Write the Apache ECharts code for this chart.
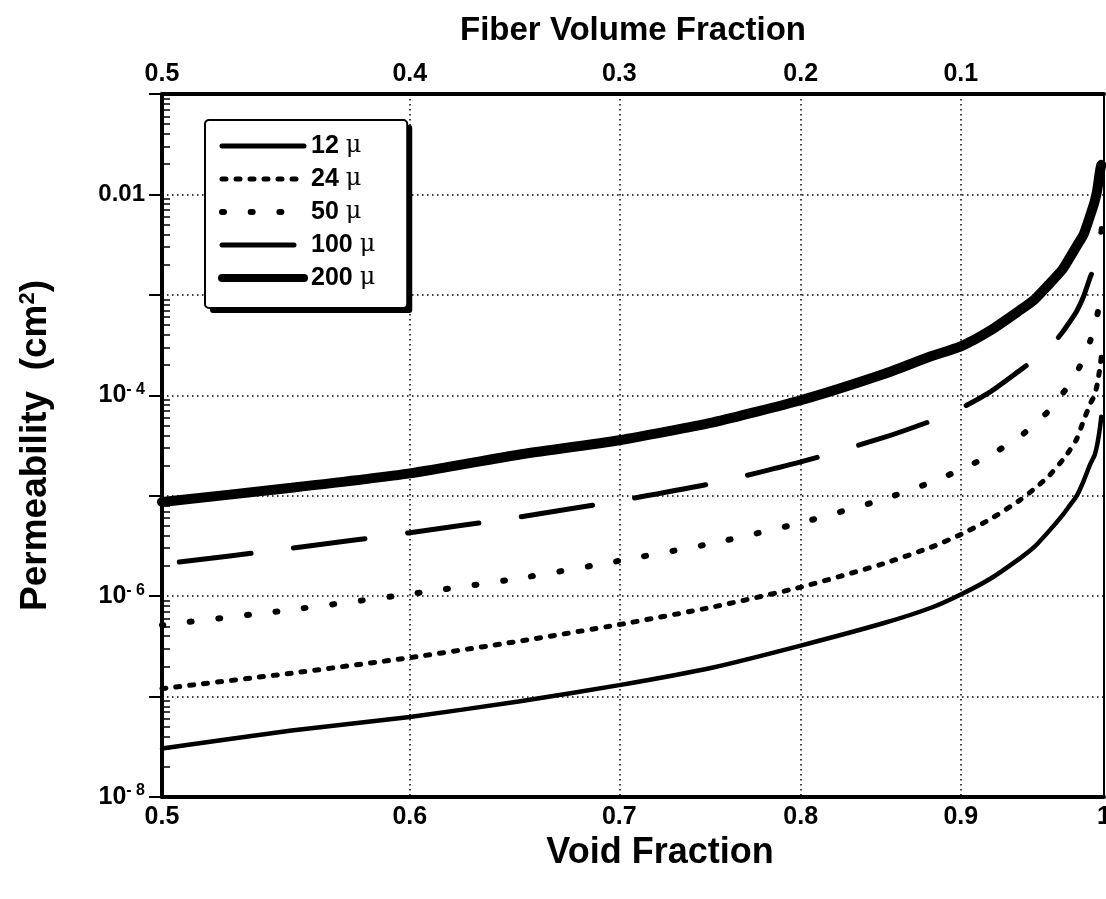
<!DOCTYPE html>
<html><head><meta charset="utf-8">
<script src="https://cdn.jsdelivr.net/npm/echarts@6/dist/echarts.min.js"></script>
<style>html,body{margin:0;padding:0;background:#fff}#c{width:1106px;height:899px}</style>
</head><body><div id="c"></div>
<script>
// Void fraction sample points (x)
const voidFraction = [0.5,0.55,0.6,0.65,0.7,0.75,0.8,0.85,0.88,0.9,0.92,0.94,0.95,0.96,0.97,0.975,0.98,0.985,0.99,0.993,0.995,0.997,0.998];
// Permeability (cm^2)
const perm12 = [3.04e-8,4.59e-8,6.27e-8,8.95e-8,1.30e-7,1.95e-7,3.22e-7,5.37e-7,7.62e-7,1.04e-6,1.50e-6,2.38e-6,3.09e-6,4.39e-6,6.41e-6,7.96e-6,9.89e-6,1.39e-5,2.07e-5,2.51e-5,3.21e-5,4.71e-5,6.10e-5];
const perm24 = [1.20e-7,1.71e-7,2.44e-7,3.55e-7,5.21e-7,7.80e-7,1.23e-6,2.10e-6,3.05e-6,4.11e-6,5.87e-6,9.04e-6,1.17e-5,1.56e-5,2.26e-5,2.82e-5,3.64e-5,5.55e-5,8.26e-5,9.98e-5,1.28e-4,1.87e-4,2.43e-4];
const perm50 = [5.15e-7,7.33e-7,1.05e-6,1.50e-6,2.25e-6,3.37e-6,5.37e-6,9.20e-6,1.35e-5,1.82e-5,2.55e-5,3.88e-5,5.12e-5,6.97e-5,1.04e-4,1.29e-4,1.67e-4,2.32e-4,3.52e-4,4.75e-4,6.22e-4,8.71e-4,1.04e-3];
const perm100 = [2.08e-6,3.00e-6,4.28e-6,6.11e-6,8.93e-6,1.33e-5,2.17e-5,3.78e-5,5.51e-5,7.43e-5,1.09e-4,1.77e-4,2.26e-4,2.88e-4,4.27e-4,5.37e-4,6.84e-4,9.57e-4,1.51e-3,1.91e-3,2.51e-3,3.55e-3,4.57e-3];
const perm200 = [8.67e-6,1.20e-5,1.67e-5,2.56e-5,3.57e-5,5.38e-5,8.93e-5,1.62e-4,2.43e-4,3.07e-4,4.44e-4,7.03e-4,8.95e-4,1.26e-3,1.80e-3,2.33e-3,3.05e-3,3.96e-3,6.24e-3,8.36e-3,1.10e-2,1.70e-2,1.97e-2];
const seriesNames = ['12 μ','24 μ','50 μ','100 μ','200 μ'];
const bottomTicks = [0.5,0.6,0.7,0.8,0.9,1];
const topTicks = [0.5,0.6,0.7,0.8,0.9];
const yLabelExps = [-8,-6,-4,-2];
const yMinorTicks = [];
for (let e = -8; e <= -2; e++) for (let m = 2; m <= 9; m++) yMinorTicks.push(+(m + 'e' + e));

const FONT = '"Liberation Sans", Arial, Helvetica, sans-serif';
const allData = [perm12, perm24, perm50, perm100, perm200];
const styles = [
  {width: 4.5, type: 'solid', cap: 'round'},
  {width: 5, type: [4, 10], cap: 'round', dashOffset: 0},
  {width: 6, type: [2, 26.7], cap: 'round', dashOffset: 0.7},
  {width: 5, type: [72, 43], cap: 'round', dashOffset: 97.5},
  {width: 10, type: 'solid', cap: 'round'}
];
const legendWidths = [5, 5, 6, 5, 8];

const chart = echarts.init(document.getElementById('c'), null, {renderer: 'canvas'});
chart.setOption({
  animation: false,
  backgroundColor: '#fff',
  grid: {left: 162, top: 94, width: 942, height: 703, show: true, borderColor: '#000', borderWidth: 2, backgroundColor: 'transparent', containLabel: false, outerBoundsMode: 'none'},
  xAxis: [{
    type: 'log', min: 0.5, max: 1, position: 'bottom',
    name: 'Void Fraction', nameLocation: 'middle', nameGap: 38,
    nameTextStyle: {fontFamily: FONT, fontSize: 36, fontWeight: 'bold', color: '#000', padding: [0, 0, 0, 54]},
    axisLine: {show: true, lineStyle: {color: '#000', width: 4}},
    axisTick: {show: false, customValues: bottomTicks},
    axisLabel: {customValues: bottomTicks, margin: 8, fontFamily: FONT, fontSize: 25, fontWeight: 'bold', color: '#000',
      formatter: v => (Math.abs(v - 1) < 1e-9 ? '1' : v.toFixed(1))},
    splitLine: {show: true, lineStyle: {color: '#000', width: 1.5, type: [1.5, 3.5]}}
  }, {
    type: 'log', min: 0.5, max: 1, position: 'top',
    name: 'Fiber Volume Fraction', nameLocation: 'middle', nameGap: 47,
    nameTextStyle: {fontFamily: FONT, fontSize: 33, fontWeight: 'bold', color: '#000'},
    axisLine: {show: true, lineStyle: {color: '#000', width: 4}},
    axisTick: {show: false, customValues: topTicks},
    axisLabel: {customValues: topTicks, margin: 7, fontFamily: FONT, fontSize: 25, fontWeight: 'bold', color: '#000',
      formatter: v => (1 - v).toFixed(1)},
    splitLine: {show: false}
  }],
  yAxis: [{
    type: 'log', min: 1e-8, max: 0.1, position: 'left',
    name: 'Permeability  (cm{s|2})', nameLocation: 'middle', nameGap: 108, nameRotate: 90,
    nameTextStyle: {fontFamily: FONT, fontSize: 37, fontWeight: 'bold', color: '#000',
      rich: {s: {fontFamily: FONT, fontSize: 22, fontWeight: 'bold', color: '#000', verticalAlign: 'top', lineHeight: 22}}},
    axisLine: {show: true, lineStyle: {color: '#000', width: 4}},
    axisTick: {show: true, inside: false, length: 13, lineStyle: {color: '#000', width: 2}},
    axisLabel: {margin: 17, fontFamily: FONT, fontSize: 24, fontWeight: 'bold', color: '#000',
      formatter: v => {
        const e = Math.round(Math.log10(v));
        if (yLabelExps.indexOf(e) < 0) return '';
        if (e === -2) return '0.01';
        return '{b|10}{s|- ' + (-e) + '}';
      },
      rich: {
        b: {fontFamily: FONT, fontSize: 25, fontWeight: 'bold', color: '#000', lineHeight: 28},
        s: {fontFamily: FONT, fontSize: 16, fontWeight: 'bold', color: '#000', lineHeight: 16, verticalAlign: 'top'}
      }},
    splitLine: {show: true, lineStyle: {color: '#000', width: 1.5, type: [1.5, 3.5]}}
  }, {
    type: 'log', min: 1e-8, max: 0.1, position: 'left', offset: 0,
    axisLine: {show: false},
    axisTick: {show: true, inside: true, length: 8, customValues: yMinorTicks, lineStyle: {color: '#000', width: 1.5}},
    axisLabel: {show: false},
    splitLine: {show: false}
  }],
  legend: {
    orient: 'vertical', left: 205, top: 120, z: 5,
    padding: [13, 32, 17, 13], itemGap: 7, itemWidth: 82, itemHeight: 14,
    backgroundColor: '#fff', borderColor: '#000', borderWidth: 2, borderRadius: 4,
    itemStyle: {opacity: 0},
    textStyle: {fontFamily: FONT, fontSize: 25, fontWeight: 'bold', color: '#000', lineHeight: 26, padding: [0, 0, 0, 2],
      rich: {m: {fontFamily: '"DejaVu Serif", serif', fontSize: 24, fontWeight: 'normal', color: '#000', lineHeight: 26}}},
    formatter: name => { const p = name.split(' '); return p[0] + ' {m|' + p[1] + '}'; },
    data: seriesNames.map((n, i) => ({name: n, lineStyle: {width: legendWidths[i], dashOffset: 0}}))
  },
  series: seriesNames.map((n, i) => ({
    name: n, type: 'line', xAxisIndex: 0, yAxisIndex: 0,
    showSymbol: false, symbol: 'none', smooth: 0.2, clip: true,
    color: '#000',
    lineStyle: Object.assign({color: '#000'}, styles[i]),
    data: voidFraction.map((x, j) => [x, allData[i][j]])
  }))
});

// Drop shadow block behind the legend box
let box = {x: 205, y: 120, w: 203, h: 190};
try {
  const lm = chart.getModel().getComponent('legend');
  const view = chart.getViewOfComponentModel(lm);
  const bg = view._backgroundEl;
  const r = bg.getBoundingRect().clone();
  r.applyTransform(bg.getComputedTransform());
  if (r.width > 50 && r.height > 50) box = {x: r.x, y: r.y, w: r.width, h: r.height};
} catch (e) {}
chart.setOption({
  graphic: [{type: 'rect', z: 4, silent: true,
    shape: {x: box.x + 6, y: box.y + 6, width: box.w - 2, height: box.h - 2, r: 3},
    style: {fill: '#000'}}]
});
</script></body></html>
